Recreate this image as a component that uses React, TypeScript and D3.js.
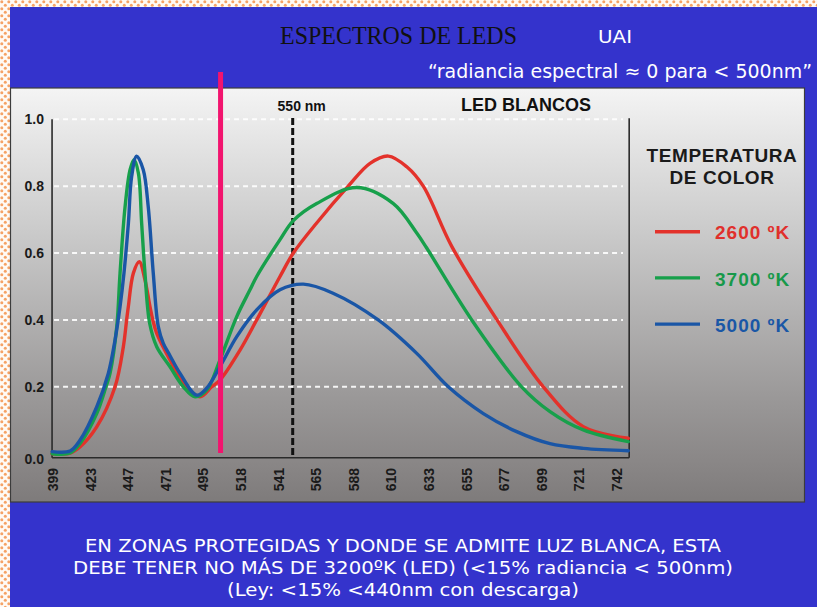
import React from "react";
import * as d3 from "d3";

// X axis tick labels (nm), evenly spaced on the chart
const tickLabels = [399, 423, 447, 471, 495, 518, 541, 565, 588, 610, 633, 655, 677, 699, 721, 742];
const yTicks = [0, 0.2, 0.4, 0.6, 0.8, 1.0];

// 2600 K
const wl2600 = [398.4, 409.9, 416.2, 426.9, 438.6, 443.9, 446.0, 447.1, 450.3, 454.1, 457.7, 460.9, 462.7, 465.2, 473.7, 482.2, 492.8, 500.1, 505.1, 517.4, 527.6, 541.9, 550.4, 565.3, 584.6, 597.5, 608.2, 619.4, 629.5, 646.3, 672.8, 699.9, 723.2, 748.3];
const val2600 = [0.0, 0.002, 0.02, 0.08, 0.2, 0.32, 0.4, 0.44, 0.54, 0.574, 0.52, 0.44, 0.4, 0.36, 0.28, 0.21, 0.17, 0.2, 0.22, 0.31, 0.4, 0.53, 0.6, 0.69, 0.8, 0.868, 0.89, 0.858, 0.8, 0.62, 0.4, 0.2, 0.081, 0.046];

// 3700 K
const wl3700 = [398.4, 409.9, 416.2, 426.9, 432.8, 435.4, 439.7, 441.8, 445.0, 448.2, 450.7, 453.5, 455.6, 457.7, 460.7, 465.2, 473.7, 482.2, 489.6, 497.0, 505.1, 515.4, 523.5, 527.6, 541.9, 550.4, 565.3, 589.7, 611.2, 625.5, 631.6, 658.0, 687.2, 703.8, 723.2, 748.3];
const val3700 = [0.0, 0.002, 0.03, 0.12, 0.2, 0.24, 0.38, 0.54, 0.738, 0.849, 0.879, 0.839, 0.688, 0.54, 0.39, 0.32, 0.26, 0.2, 0.17, 0.19, 0.28, 0.41, 0.49, 0.53, 0.64, 0.697, 0.748, 0.796, 0.748, 0.66, 0.615, 0.4, 0.2, 0.126, 0.071, 0.036];

// 5000 K
const wl5000 = [398.4, 409.9, 416.2, 426.9, 434.3, 438.6, 441.8, 444.3, 447.1, 449.2, 452.4, 456.6, 459.8, 463.0, 466.2, 469.4, 473.7, 480.1, 490.7, 497.0, 505.1, 515.4, 527.6, 541.9, 556.8, 575.3, 602.3, 625.5, 644.3, 664.8, 684.3, 703.8, 723.2, 748.3];
const val5000 = [0.006, 0.008, 0.04, 0.14, 0.24, 0.34, 0.44, 0.54, 0.688, 0.829, 0.89, 0.849, 0.738, 0.54, 0.38, 0.33, 0.293, 0.24, 0.175, 0.196, 0.26, 0.35, 0.43, 0.49, 0.507, 0.48, 0.4, 0.3, 0.2, 0.12, 0.066, 0.03, 0.016, 0.009];

const seriesNames = ["2600 ºK", "3700 ºK", "5000 ºK"];
const seriesColors = ["#e3322b", "#17a04b", "#1a56a6"];
const legendTextColors = ["#e0302c", "#17994a", "#1a57a6"];

const cutoffWl = 505.5;
const refWl = 550;
const axisStartWl = 398.4;
const axisEndWl = 748.8;

const bottomLines = [
  "EN ZONAS PROTEGIDAS Y DONDE SE ADMITE LUZ BLANCA, ESTA",
  "DEBE TENER NO MÁS DE 3200ºK (LED) (<15% radiancia < 500nm)",
  "(Ley: <15% <440nm con descarga)",
];
const bottomWidths = [636, 660, 352];

export default function App() {
  const W = 817;
  const H = 607;
  const x = d3
    .scaleLinear()
    .domain(tickLabels)
    .range(tickLabels.map((_, i) => 53 + i * 37.6));
  const y = d3.scaleLinear().domain([-0.012, 1]).range([457.7, 119.3]);

  const lineGen = d3
    .line<[number, number]>()
    .x((d) => x(d[0]))
    .y((d) => y(d[1]))
    .curve(d3.curveCatmullRom.alpha(0.5));

  const series = [
    { name: seriesNames[0], wl: wl2600, val: val2600, color: seriesColors[0], tc: legendTextColors[0] },
    { name: seriesNames[1], wl: wl3700, val: val3700, color: seriesColors[1], tc: legendTextColors[1] },
    { name: seriesNames[2], wl: wl5000, val: val5000, color: seriesColors[2], tc: legendTextColors[2] },
  ];

  const x0 = x(axisStartWl);
  const x1 = x(axisEndWl);
  const yBase = y.range()[0];
  const yTop = y(1);
  const sans = "'Liberation Sans', Arial, Helvetica, sans-serif";
  const sansText = "'DejaVu Sans', Verdana, sans-serif";

  return (
    <svg
      width={W}
      height={H}
      viewBox={`0 0 ${W} ${H}`}
      style={{ position: "fixed", left: 0, top: 0, display: "block" }}
    >
      <defs>
        <pattern id="dots" width="7" height="7" patternUnits="userSpaceOnUse">
          <rect width="7" height="7" fill="#fffaf5" />
          <circle cx="1.8" cy="1.8" r="1.5" fill="#f5a265" />
          <circle cx="5.3" cy="5.3" r="1.5" fill="#f5a265" />
        </pattern>
        <linearGradient id="panelGrad" x1="0" y1="0" x2="0" y2="1">
          <stop offset="0" stopColor="#f4f4f4" />
          <stop offset="0.35" stopColor="#cacaca" />
          <stop offset="0.75" stopColor="#9a9898" />
          <stop offset="0.9" stopColor="#8a8787" />
          <stop offset="1" stopColor="#7e7b7b" />
        </linearGradient>
      </defs>

      <rect x={0} y={0} width={W} height={H} fill="url(#dots)" />
      <rect x={10} y={7} width={W - 10} height={H - 7} fill="#3433cc" />

      {/* Header texts */}
      <text
        x={280}
        y={44}
        fontFamily="'Liberation Serif', 'Times New Roman', serif"
        fontSize={26}
        fill="#111"
        textLength={237}
        lengthAdjust="spacingAndGlyphs"
      >
        ESPECTROS DE LEDS
      </text>
      <text x={598} y={43} fontFamily={sansText} fontSize={18} fill="#fff" textLength={34} lengthAdjust="spacingAndGlyphs">
        UAI
      </text>
      <text x={428} y={78} fontFamily={sansText} fontSize={19} fill="#fff" textLength={384} lengthAdjust="spacingAndGlyphs">
        “radiancia espectral ≈ 0 para &lt; 500nm”
      </text>

      {/* Panel */}
      <rect x={10.5} y={88} width={794} height={414} fill="url(#panelGrad)" stroke="#3c3c3c" strokeWidth={1.2} />

      {/* Grid lines */}
      {yTicks
        .filter((t) => t > 0)
        .map((t) => (
          <line
            key={`g${t}`}
            x1={x0 + 2}
            x2={623}
            y1={y(t)}
            y2={y(t)}
            stroke="#ffffff"
            strokeWidth={2}
            strokeDasharray="5 4"
            opacity={0.9}
          />
        ))}

      {/* Axes */}
      <line x1={x0} x2={x0} y1={yTop} y2={yBase} stroke="#2a2a2a" strokeWidth={1.6} />
      <line x1={x1} x2={x1} y1={yTop - 1} y2={yBase} stroke="#2a2a2a" strokeWidth={1.6} />
      <line x1={x0} x2={x1} y1={yBase} y2={yBase} stroke="#2a2a2a" strokeWidth={1.6} />

      {/* Y tick labels */}
      {yTicks.map((t) => (
        <text
          key={`y${t}`}
          x={44}
          y={t === 0 ? yBase + 1 : y(t)}
          textAnchor="end"
          dominantBaseline="central"
          fontFamily={sans}
          fontWeight="bold"
          fontSize={14}
          fill="#1a1a1a"
        >
          {t.toFixed(1)}
        </text>
      ))}

      {/* X tick labels */}
      {tickLabels.map((t) => (
        <text
          key={`x${t}`}
          transform={`translate(${x(t)},468) rotate(-90)`}
          textAnchor="end"
          dominantBaseline="central"
          fontFamily={sans}
          fontWeight="bold"
          fontSize={14}
          fill="#1a1a1a"
        >
          {t}
        </text>
      ))}

      {/* 550 nm reference line */}
      <line
        x1={x(refWl)}
        x2={x(refWl)}
        y1={118}
        y2={yBase}
        stroke="#111"
        strokeWidth={3}
        strokeDasharray="7 3"
      />
      <text x={x(refWl) + 9} y={111} textAnchor="middle" fontFamily={sans} fontWeight="bold" fontSize={14} fill="#111">
        550 nm
      </text>
      <text x={526} y={111} textAnchor="middle" fontFamily={sans} fontWeight="bold" fontSize={18} fill="#111">
        LED BLANCOS
      </text>

      {/* Curves */}
      {series.map((s) => (
        <path
          key={s.name}
          d={lineGen(d3.zip(s.wl, s.val) as [number, number][]) || ""}
          fill="none"
          stroke={s.color}
          strokeWidth={3.4}
          strokeLinejoin="round"
          strokeLinecap="round"
        />
      ))}

      {/* Cutoff line */}
      <line x1={x(cutoffWl)} x2={x(cutoffWl)} y1={72} y2={453} stroke="#f2146e" strokeWidth={5} />

      {/* Legend */}
      <text x={722} y={162} textAnchor="middle" fontFamily={sans} fontWeight="bold" fontSize={19} fill="#1a1a1a" letterSpacing={0.6}>
        TEMPERATURA
      </text>
      <text x={722} y={183.5} textAnchor="middle" fontFamily={sans} fontWeight="bold" fontSize={19} fill="#1a1a1a" letterSpacing={0.6}>
        DE COLOR
      </text>
      {series.map((s, i) => {
        const ly = 231.7 + i * 46.2;
        return (
          <g key={`lg${s.name}`}>
            <line x1={655} x2={700} y1={ly} y2={ly} stroke={s.color} strokeWidth={3.4} />
            <text x={715} y={ly + 7.7} fontFamily={sans} fontWeight="bold" fontSize={19} fill={s.tc} letterSpacing={1}>
              {s.name}
            </text>
          </g>
        );
      })}

      {/* Bottom text */}
      {bottomLines.map((t, i) => (
        <text
          key={`b${i}`}
          x={403}
          y={552 + i * 22}
          textAnchor="middle"
          fontFamily={sansText}
          fontSize={18}
          fill="#fff"
          textLength={bottomWidths[i]}
          lengthAdjust="spacingAndGlyphs"
        >
          {t}
        </text>
      ))}
    </svg>
  );
}
